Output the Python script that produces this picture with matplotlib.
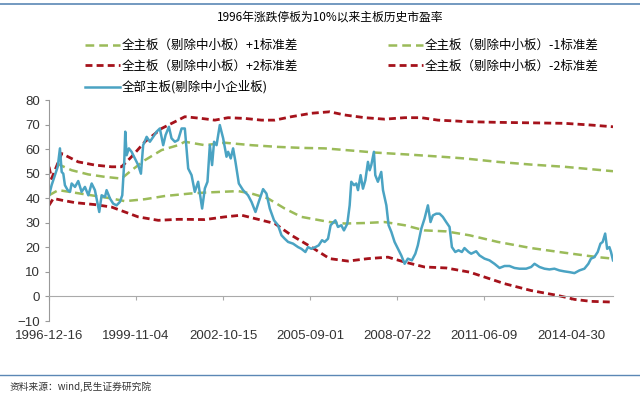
import matplotlib
matplotlib.use('Agg')
import matplotlib.pyplot as plt
from matplotlib.lines import Line2D

plt.rcParams['font.family'] = ['Liberation Sans', 'Noto Sans CJK SC', 'DejaVu Sans']
CJK = ['Noto Sans CJK SC', 'DejaVu Sans']

# x = trading-day index since 1996-12-16
tick_pos = [0, 700, 1400, 2100, 2800, 3500, 4200]
tick_labels = ['1996-12-16', '1999-11-04', '2002-10-15', '2005-09-01',
               '2008-07-22', '2011-06-09', '2014-04-30']

pe_x = [0, 21, 48, 70, 88, 102, 115, 128, 150, 169, 182, 209, 235, 262, 289, 316,
        343, 369, 404, 423, 450, 463, 490, 516, 543, 570, 589, 605, 613, 624, 642,
        664, 691, 717, 739, 757, 785, 811, 838, 865, 891, 918, 937, 964, 985, 1012,
        1038, 1066, 1092, 1119, 1146, 1172, 1199, 1231, 1253, 1274, 1293, 1311,
        1327, 1347, 1373, 1400, 1427, 1440, 1461, 1480, 1499, 1526, 1560, 1600,
        1628, 1660, 1686, 1721, 1748, 1775, 1809, 1841, 1869, 1895, 1922, 1962,
        2002, 2029, 2061, 2082, 2109, 2142, 2168, 2195, 2216, 2243, 2264, 2302,
        2323, 2350, 2371, 2398, 2417, 2430, 2452, 2470, 2484, 2505, 2524, 2543,
        2564, 2578, 2591, 2612, 2623, 2644, 2671, 2685, 2712, 2730, 2752, 2778,
        2805, 2832, 2859, 2885, 2917, 2945, 2965, 2993, 3019, 3046, 3067, 3086,
        3113, 3140, 3166, 3193, 3220, 3239, 3266, 3292, 3319, 3340, 3373, 3394,
        3434, 3461, 3501, 3541, 3581, 3622, 3662, 3702, 3742, 3782, 3836, 3876,
        3903, 3943, 3983, 4023, 4063, 4103, 4144, 4184, 4224, 4264, 4304, 4336,
        4357, 4384, 4411, 4433, 4451, 4471, 4487, 4505, 4518, 4534]
pe = [41, 45.3, 49.4, 52.8, 60.3, 50.7, 50, 45.3, 43.3, 42.6, 46, 44.6, 47, 42.6,
      44.6, 41.2, 46, 43.3, 34.4, 41.2, 40.5, 43.3, 39.9, 37.8, 37.1, 38.5, 41.2,
      54.8, 67.1, 57.5, 60.3, 58.9, 56.2, 53.5, 50, 61.6, 65, 63, 65, 67.1, 68.4,
      61.6, 65.7, 69.1, 64.4, 63, 63.7, 68.4, 68.4, 52.1, 49.4, 42.6, 46.7, 35.8,
      44, 46.7, 61.6, 53.5, 63, 61.6, 69.8, 64.4, 56.9, 58.9, 56.2, 60.3, 54.8,
      46, 43.3, 41.2, 38.5, 34.4, 38.5, 43.7, 41.9, 35.8, 31, 29, 24.9, 23.5,
      22.2, 21.5, 20.1, 19.4, 18.1, 20.1, 19.4, 20.1, 20.8, 22.9, 22.2, 23.5, 29,
      31, 28.3, 29, 26.9, 29.6, 37.1, 46.7, 45.3, 46, 43.3, 49.4, 43.9, 47.3,
      54.8, 51.4, 53.5, 58.9, 49.4, 46.7, 50.7, 43.3, 37.1, 29, 26.3, 22.2, 19.4,
      16.7, 13.3, 15.4, 14.7, 17.4, 20.8, 27.6, 31.7, 37.1, 30.3, 33, 33.7, 33.7,
      32.4, 30.3, 28.3, 20.1, 18.1, 18.8, 18.1, 19.7, 18.1, 17.4, 18.4, 16.7,
      15.4, 14.7, 13.3, 11.6, 12.4, 12.4, 11.6, 11.3, 11.3, 12, 13.3, 12, 11.3,
      11, 11.3, 10.6, 10.2, 9.9, 9.5, 10.6, 11.3, 13.3, 15.4, 16, 18.1, 21.5,
      22.2, 25.6, 19.4, 20.1, 18.1, 14.7]

up2_x = [0, 21, 102, 235, 369, 503, 583, 664, 771, 905, 1038, 1092, 1226, 1333,
         1440, 1574, 1708, 1815, 1949, 2109, 2256, 2377, 2538, 2698, 2859, 2993,
         3126, 3287, 3340, 3608, 3876, 4144, 4357, 4534]
up2 = [52.8, 48, 58.2, 54.8, 53.5, 52.8, 52.8, 56.9, 63, 68.4, 71.8, 73.2, 72.5,
       71.8, 72.8, 72.5, 71.8, 71.8, 73.2, 74.6, 75.2, 73.9, 72.8, 72.2, 72.8,
       72.8, 71.8, 71.4, 71.2, 70.9, 70.7, 70.5, 69.8, 69.1]

up1_x = [62, 182, 316, 450, 583, 664, 771, 905, 1038, 1092, 1253, 1413, 1628,
         1841, 2029, 2216, 2484, 2618, 2885, 3153, 3340, 3608, 3876, 4144, 4534]
up1 = [54.1, 51.4, 49.7, 48.7, 48, 51.4, 55.5, 59.6, 61.6, 63, 61.6, 62.6, 61.6,
       60.9, 60.5, 60.3, 59.2, 58.6, 57.8, 56.9, 56.2, 54.8, 53.7, 52.8, 51]

dn1_x = [0, 75, 503, 610, 771, 931, 1132, 1253, 1387, 1520, 1628, 1761, 1895,
         2029, 2256, 2377, 2538, 2698, 2859, 3019, 3193, 3381, 3608, 3876, 4144,
         4411, 4534]
dn1 = [41.2, 43.3, 39.9, 38.8, 39.6, 40.9, 41.9, 42.3, 42.6, 42.9, 41.9, 39.9,
       35.8, 32.4, 30.3, 29.7, 29.9, 30.3, 29, 26.9, 26.5, 24.9, 22.2, 19.7, 17.8,
       16, 15.4]

dn2_x = [0, 35, 102, 209, 369, 503, 610, 717, 878, 1038, 1092, 1253, 1413, 1547,
         1681, 1815, 1949, 2109, 2256, 2404, 2564, 2725, 2859, 3019, 3193, 3381,
         3501, 3662, 3876, 4090, 4224, 4357, 4534]
dn2 = [37.1, 39.9, 39.2, 38.2, 37.4, 36.4, 34.4, 32.4, 31, 31.4, 31.4, 31.3, 32.4,
       33.1, 31.4, 29.7, 24.9, 20.1, 15.4, 14.4, 15.4, 16, 14, 12, 11.6, 9.9, 7.9,
       5.2, 2.4, 0.4, -1.2, -2, -2.3]

labels = ['全主板（剔除中小板）+1标准差', '全主板（剔除中小板）-1标准差',
          '全主板（剔除中小板）+2标准差', '全主板（剔除中小板）-2标准差',
          '全部主板(剔除中小企业板)']

green = '#9bbb59'
red = '#a5121b'
blue = '#4aa3c3'

fig = plt.figure(figsize=(6.4, 3.94), dpi=100)
ax = fig.add_axes([49 / 640, 1 - 321 / 394, (613 - 49) / 640, (321 - 100) / 394])

l_up1, = ax.plot(up1_x, up1, color=green, lw=1.8, dashes=(3.5, 2))
l_dn1, = ax.plot(dn1_x, dn1, color=green, lw=1.8, dashes=(3.5, 2))
l_up2, = ax.plot(up2_x, up2, color=red, lw=2, dashes=(2.5, 1.5))
l_dn2, = ax.plot(dn2_x, dn2, color=red, lw=2, dashes=(2.5, 1.5))
l_pe, = ax.plot(pe_x, pe, color=blue, lw=1.8)

ax.set_xlim(0, 4534)
ax.set_ylim(-10, 80)
ax.set_yticks(range(-10, 81, 10))
ax.set_xticks(tick_pos)
ax.set_xticklabels(tick_labels)

for s in ['top', 'right']:
    ax.spines[s].set_visible(False)
ax.spines['left'].set_color('#999999')
ax.spines['bottom'].set_color('#aaaaaa')
ax.spines['bottom'].set_position(('data', 0))
ax.tick_params(axis='y', colors='#999999', labelcolor='#333333', labelsize=9.5,
               length=3, width=0.8)
ax.tick_params(axis='x', colors='#aaaaaa', labelcolor='#333333', labelsize=9.5,
               length=3, width=0.8, pad=21)

fig.legend([l_up1, l_up2, l_pe, l_dn1, l_dn2],
           [labels[0], labels[2], labels[4], labels[1], labels[3]],
           ncol=2, loc='upper left', bbox_to_anchor=(80 / 640, 1 - 34 / 394),
           frameon=False, handlelength=2.8, handletextpad=0.15,
           columnspacing=7.2, labelspacing=0.62, borderaxespad=0,
           prop={'family': CJK, 'size': 9})

fig.text(330 / 640, 1 - 17 / 394, '1996年涨跌停板为10%以来主板历史市盈率',
         ha='center', va='center', fontsize=8.5, family=CJK)
fig.text(10 / 640, 1 - 387 / 394, '资料来源：wind,民生证券研究院',
         ha='left', va='center', fontsize=7, family=CJK, color='#333333')

fig.add_artist(Line2D([0, 1], [1 - 4 / 394] * 2, color='#5b87b5', lw=1.2))
fig.add_artist(Line2D([0, 1], [1 - 375 / 394] * 2, color='#5b87b5', lw=1.0))

fig.savefig('out.png', dpi=100)
